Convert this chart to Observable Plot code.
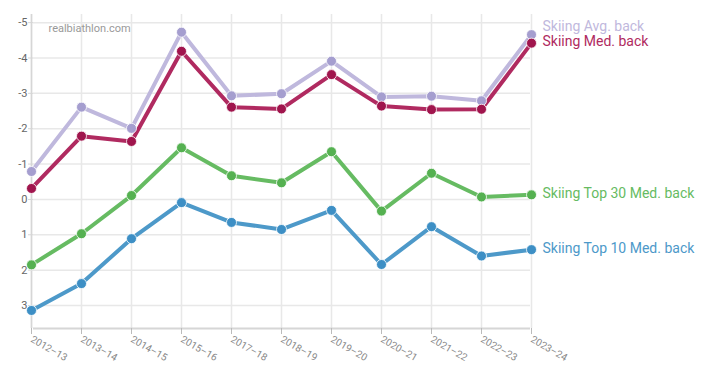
<!DOCTYPE html>
<html><head><meta charset="utf-8">
<script src="https://cdn.jsdelivr.net/npm/d3@7"></script>
<script src="https://cdn.jsdelivr.net/npm/@observablehq/plot@0.6"></script>
<style>
body{margin:0;background:#fff;font-family:Roboto,sans-serif;overflow:hidden;}
svg{display:block;}
</style></head><body><div id="chart"></div>
<script>
const seasons = ["2012–13","2013–14","2014–15","2015–16","2017–18","2018–19","2019–20","2020–21","2021–22","2022–23","2023–24"];
const avgBack   = [-0.79,-2.61,-2.01,-4.73,-2.93,-2.99,-3.91,-2.90,-2.92,-2.79,-4.66];
const medBack   = [-0.31,-1.79,-1.64,-4.19,-2.61,-2.56,-3.53,-2.64,-2.54,-2.55,-4.42];
const top30Back = [1.85,0.97,-0.11,-1.46,-0.67,-0.47,-1.35,0.33,-0.74,-0.07,-0.13];
const top10Back = [3.14,2.38,1.11,0.09,0.65,0.85,0.31,1.84,0.77,1.60,1.42];
const seriesNames = ["Skiing Avg. back","Skiing Med. back","Skiing Top 30 Med. back","Skiing Top 10 Med. back"];
const yTicks = [-5,-4,-3,-2,-1,0,1,2,3];

const lineColors = ["#bfb8dd","#b02a60","#66bb62","#4d99c9"];
const dotColors  = ["#a59ecf","#a0154d","#55b151","#3d8fc5"];
const labelDy = [-8,-2,-1,-1];

const values = [avgBack, medBack, top30Back, top10Back];
const data = [];
seriesNames.forEach((s,i)=> seasons.forEach((season,j)=> data.push({series:s, idx:i, season, value: values[i][j]})));
const last = seriesNames.map((s,i)=>({series:s, idx:i, season: seasons[seasons.length-1], value: values[i][seasons.length-1]}));

const labelMarks = last.map(d => Plot.text([d], {x: "season", y: "value", text: "series", fill: lineColors[d.idx], textAnchor: "start", dx: 11, dy: labelDy[d.idx], fontSize: 14}));

const plot = Plot.plot({
  width: 710, height: 375,
  marginLeft: 33, marginRight: 180, marginTop: 14, marginBottom: 47,
  style: {fontFamily: "Roboto, sans-serif", background: "#fff"},
  x: {type: "point", domain: seasons, padding: 0, range: [29, 533], label: null},
  y: {domain: [3.65, -5.23], label: null},
  marks: [
    Plot.gridY(yTicks, {stroke: "#e8e8e8", strokeOpacity: 1, strokeWidth: 1.5}),
    Plot.gridX(seasons, {stroke: "#e8e8e8", strokeOpacity: 1, strokeWidth: 1.5}),
    Plot.ruleX([seasons[0]], {stroke: "#d6d6d6", strokeWidth: 1.5}),
    Plot.ruleY([3.65], {stroke: "#d6d6d6", strokeWidth: 2}),
    Plot.axisY(yTicks, {tickSize: 5, tickPadding: 1, stroke: "#d6d6d6", fill: "#666", fontSize: 11, tickFormat: d => String(d), label: null}),
    Plot.axisX(seasons, {tickSize: 6, tickRotate: 30, stroke: "#bbb", fill: "#888", fontSize: 10, tickPadding: 4, label: null}),
    Plot.line(data, {x: "season", y: "value", z: "series", stroke: d => lineColors[d.idx], strokeWidth: 4, curve: "linear"}),
    Plot.dot(data, {x: "season", y: "value", fill: d => dotColors[d.idx], r: 5, stroke: "#fff", strokeWidth: 0.8}),
    ...labelMarks,
    Plot.text(["realbiathlon.com"], {frameAnchor: "top-left", dx: 15, dy: 10, fill: "#999", fontSize: 11, textAnchor: "start"})
  ]
});
document.getElementById("chart").appendChild(plot);
</script></body></html>
